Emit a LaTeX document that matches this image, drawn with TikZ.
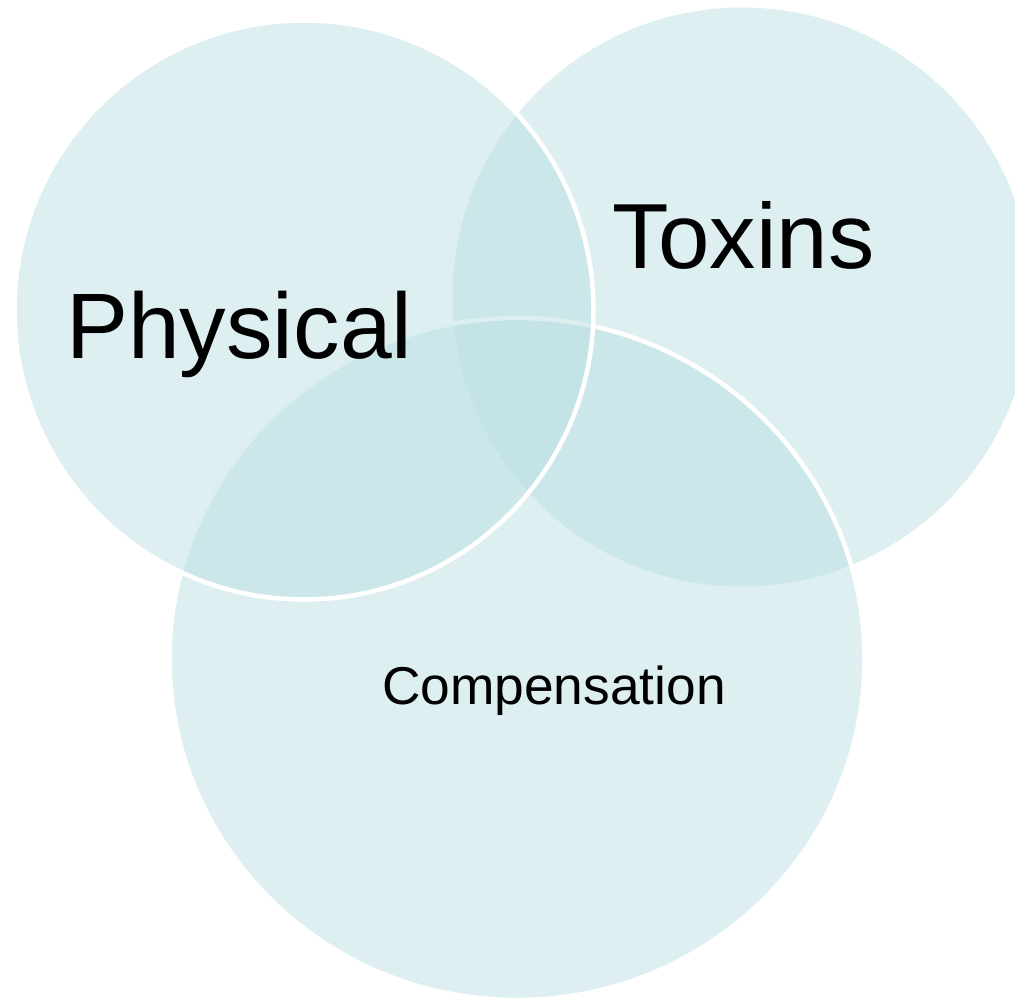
\documentclass[tikz,border=0pt]{standalone}
\usepackage{fontspec}
\setmainfont{Liberation Sans}
\definecolor{vennfill}{RGB}{187,223,227}
\tikzset{
  venn/.style={fill=vennfill, fill opacity=0.5},
  vennline/.style={venn, draw=white, line width=4.5pt},
  lbl/.style={anchor=base west, inner sep=0pt, text=black}
}
\begin{document}
\begin{tikzpicture}[x=1pt, y=-1pt]
\useasboundingbox (0,0) rectangle (1015,998);
\clip (0,0) rectangle (1015,998);
\path[venn] (742,297) circle[radius=289.5];
\path[vennline] (517,659) ellipse[x radius=347.5, y radius=341];
\path[vennline] (304,310) circle[radius=289.5];
\node[lbl] (physical) at (66,358) {\fontsize{93}{100}\selectfont Physical};
\node[lbl] (toxins) at (612,268) {\fontsize{92.5}{100}\selectfont Toxins};
\node[lbl] (comp) at (382,704) {\fontsize{53.3}{60}\selectfont Compensation};
\end{tikzpicture}
\end{document}
